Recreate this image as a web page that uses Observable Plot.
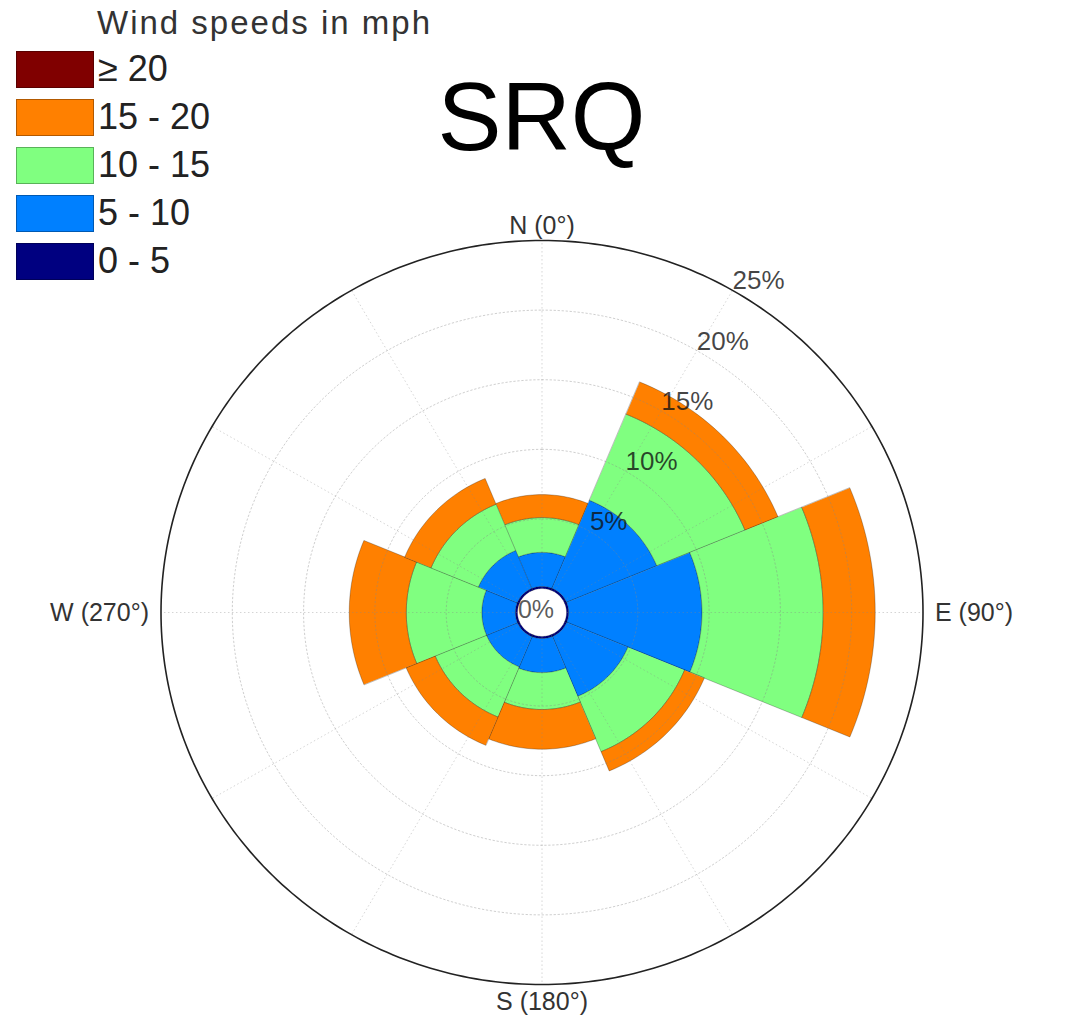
<!DOCTYPE html>
<html>
<head>
<meta charset="utf-8">
<script src="https://cdn.jsdelivr.net/npm/d3@7"></script>
<script src="https://cdn.jsdelivr.net/npm/@observablehq/plot@0.6"></script>
<style>
  body { margin: 0; background: #fff; font-family: "Liberation Sans", Arial, sans-serif; }
  #wrap { position: relative; width: 1074px; height: 1015px; overflow: hidden; }
  #chart { position: absolute; left: 0; top: 0; }
  #legendTitle { position: absolute; left: 97px; top: 6px; font-size: 33px; line-height: 33px; letter-spacing: 2px; color: #333; white-space: nowrap; }
  #legend { position: absolute; left: 16px; top: 51px; }
  .row { display: flex; align-items: center; height: 36px; margin-bottom: 12px; }
  .sw { width: 76px; height: 35px; border: 0.5px solid rgba(0,0,0,0.3); margin-right: 4px; }
  .lab { font-size: 36px; line-height: 36px; color: #222; white-space: nowrap; }
  #title { position: absolute; left: 0; width: 1083px; text-align: center; top: 69px; font-size: 96px; line-height: 96px; color: #000; }
  g[aria-label="compass"] text { letter-spacing: 1px; }
  g[aria-label="radial-ticks"] text { letter-spacing: 1px; }
</style>
</head>
<body>
<div id="wrap">
  <div id="chart"></div>
  <div id="legendTitle"></div>
  <div id="legend"></div>
  <div id="title"></div>
</div>
<script>
// ---------- data ----------
const chartTitle = "SRQ";
const legendTitle = "Wind speeds in mph";
const directions = ["N", "NE", "E", "SE", "S", "SW", "W", "NW"];
const directionAngles = [0, 45, 90, 135, 180, 225, 270, 315];
const speedBins = ["0 - 5", "5 - 10", "10 - 15", "15 - 20", "≥ 20"];
const binColors = ["#000080", "#0080ff", "#80ff80", "#ff8000", "#800000"];
// percent of time per direction, per speed bin
const pct0to5   = [0.15, 0.15, 0.15, 0.15, 0.15, 0.15, 0.15, 0.15];
const pct5to10  = [2.45, 6.85, 9.35, 4.65, 2.45, 2.35, 2.35, 2.95];
const pct10to15 = [2.50, 6.70, 8.50, 4.30, 2.65, 3.90, 5.30, 3.60];
const pct15to20 = [1.65, 2.50, 3.65, 1.50, 2.85, 2.20, 4.00, 2.00];
const pct20plus = [0, 0, 0, 0, 0, 0, 0, 0];
const radialTicks = [0, 5, 10, 15, 20, 25];
const radialTickLabels = ["0%", "5%", "10%", "15%", "20%", "25%"];
const spokeAngles = [0, 30, 60, 90, 120, 150, 180, 210, 240, 270, 300, 330];
const compassLabels = ["N (0°)", "E (90°)", "S (180°)", "W (270°)"];
const compassAngles = [0, 90, 180, 270];

// ---------- geometry helpers (data units: percent) ----------
const hole = 1.72;                 // radius of the empty centre, in percent units
const rMax = hole + radialTicks[radialTicks.length - 1];
const sectorWidth = 45;
const rad = d => d * Math.PI / 180;
const px = (a, r) => r * Math.sin(rad(a));
const py = (a, r) => r * Math.cos(rad(a));

const series = [pct0to5, pct5to10, pct10to15, pct15to20, pct20plus];
const wedges = [];
directions.forEach((dir, i) => {
  let cum = 0;
  series.forEach((vals, j) => {
    const v = vals[i];
    if (!(v > 0)) return;
    const r0 = hole + cum, r1 = hole + cum + v;
    cum += v;
    const id = dir + "|" + speedBins[j];
    const a0 = directionAngles[i] - sectorWidth / 2, a1 = directionAngles[i] + sectorWidth / 2;
    const n = 30;
    for (let k = 0; k <= n; k++) { const a = a0 + (a1 - a0) * k / n; wedges.push({id, bin: speedBins[j], x: px(a, r1), y: py(a, r1)}); }
    for (let k = n; k >= 0; k--) { const a = a0 + (a1 - a0) * k / n; wedges.push({id, bin: speedBins[j], x: px(a, r0), y: py(a, r0)}); }
  });
});

const circlePts = (r) => d3.range(0, 360, 1).map(a => ({r, x: px(a, r), y: py(a, r)}));
const gridRings = radialTicks.slice(1, -1).flatMap(t => circlePts(hole + t));
const outerRing = circlePts(rMax);
const spokes = spokeAngles.map(a => ({x1: px(a, hole), y1: py(a, hole), x2: px(a, rMax), y2: py(a, rMax)}));
const tickText = radialTicks.map((t, i) => ({t, label: radialTickLabels[i], x: t === 0 ? 0 : px(30, hole + t), y: t === 0 ? 0 : py(30, hole + t)}));
const compass = compassLabels.map((label, i) => ({label, a: compassAngles[i], x: px(compassAngles[i], rMax), y: py(compassAngles[i], rMax)}));

const chart = Plot.plot({
  width: 1074,
  height: 1015,
  marginLeft: 160.5,
  marginRight: 151.5,
  marginTop: 240,
  marginBottom: 31,
  x: {domain: [-rMax, rMax], axis: null},
  y: {domain: [-rMax, rMax], axis: null},
  color: {domain: speedBins, range: binColors},
  style: {fontFamily: "'Liberation Sans', Arial, sans-serif", background: "white", overflow: "visible"},
  marks: [
    Plot.line(wedges, {x: "x", y: "y", z: "id", fill: "bin", stroke: "#000", strokeOpacity: 0.25, strokeWidth: 1, curve: "linear-closed"}),
    Plot.line(gridRings, {x: "x", y: "y", z: "r", stroke: "#888", strokeOpacity: 0.4, strokeWidth: 1, strokeDasharray: "1.5,2.5", curve: "linear-closed"}),
    Plot.link(spokes, {x1: "x1", y1: "y1", x2: "x2", y2: "y2", stroke: "#888", strokeOpacity: 0.35, strokeWidth: 1, strokeDasharray: "1.5,2.5"}),
    Plot.line(outerRing, {x: "x", y: "y", stroke: "#222", strokeWidth: 1.6, curve: "linear-closed"}),
    Plot.text(tickText.filter(d => d.t === 0), {x: "x", y: "y", text: "label", fontSize: 25, fill: "#111", fillOpacity: 0.7, textAnchor: "middle", dx: -6, dy: -3}),
    Plot.text(tickText.filter(d => d.t > 0), {ariaLabel: "radial-ticks", x: "x", y: "y", text: "label", fontSize: 26, fill: "#111", fillOpacity: 0.78, textAnchor: "start", lineAnchor: "bottom", dx: 0, dy: -1}),
    Plot.text(compass.filter(d => d.a === 0), {ariaLabel: "compass", x: "x", y: "y", text: "label", fontSize: 25, fill: "#333", textAnchor: "middle", dy: -15}),
    Plot.text(compass.filter(d => d.a === 180), {ariaLabel: "compass", x: "x", y: "y", text: "label", fontSize: 25, fill: "#333", textAnchor: "middle", dy: 17}),
    Plot.text(compass.filter(d => d.a === 90), {ariaLabel: "compass", x: "x", y: "y", text: "label", fontSize: 25, fill: "#333", textAnchor: "start", dx: 12}),
    Plot.text(compass.filter(d => d.a === 270), {ariaLabel: "compass", x: "x", y: "y", text: "label", fontSize: 25, fill: "#333", textAnchor: "end", dx: -12})
  ]
});
document.getElementById("chart").appendChild(chart);

// ---------- legend and title ----------
document.getElementById("title").textContent = chartTitle;
document.getElementById("legendTitle").textContent = legendTitle;
const legend = document.getElementById("legend");
speedBins.slice().reverse().forEach(b => {
  const row = document.createElement("div"); row.className = "row";
  const sw = document.createElement("div"); sw.className = "sw"; sw.style.background = binColors[speedBins.indexOf(b)];
  const lab = document.createElement("div"); lab.className = "lab"; lab.textContent = b;
  row.appendChild(sw); row.appendChild(lab); legend.appendChild(row);
});
</script>
</body>
</html>
